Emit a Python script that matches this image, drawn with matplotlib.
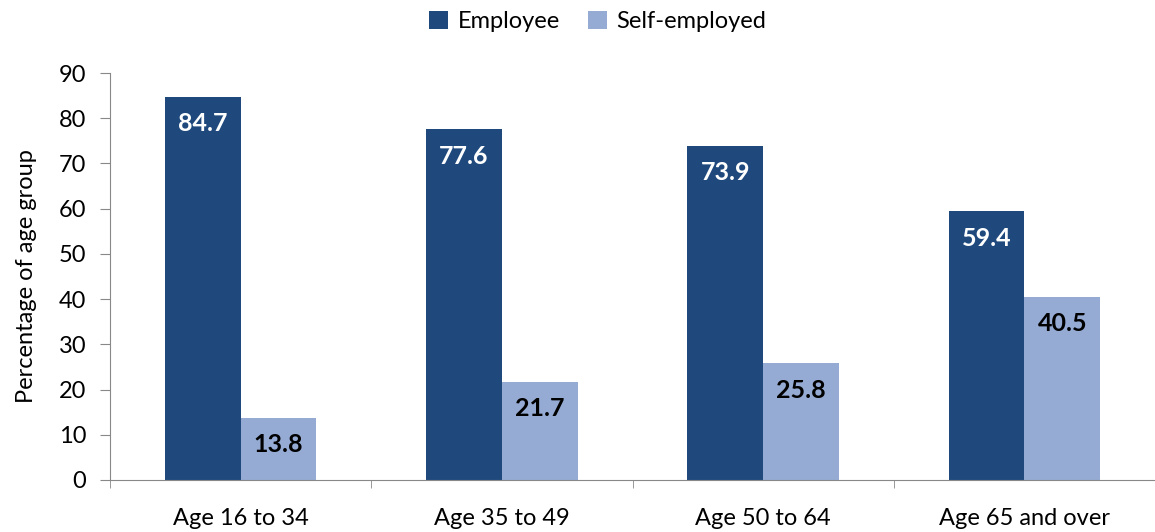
import matplotlib.pyplot as plt
import numpy as np

plt.rcParams['font.family'] = ['Lato', 'DejaVu Sans']

# data
groups = ["Age 16 to 34", "Age 35 to 49", "Age 50 to 64", "Age 65 and over"]
employee = [84.7, 77.6, 73.9, 59.4]
self_employed = [13.8, 21.7, 25.8, 40.5]

dark = "#1F497D"
light = "#95ABD3"
axis_col = "#888888"

fig = plt.figure(figsize=(11.55, 5.32), dpi=100)
ax = fig.add_axes([110/1155, 52/532, 1045/1155, 407/532])

x = np.arange(len(groups))
w = 0.29
b1 = ax.bar(x - w/2, employee, w, color=dark, label="Employee")
b2 = ax.bar(x + w/2, self_employed, w, color=light, label="Self-employed")

# value labels just inside the top of each bar
for rect, v in zip(b1, employee):
    ax.annotate(f"{v:.1f}", (rect.get_x() + rect.get_width()/2, v),
                xytext=(0, -27), textcoords="offset pixels",
                ha="center", va="center", color="white",
                fontsize=18, fontweight="bold")
for rect, v in zip(b2, self_employed):
    ax.annotate(f"{v:.1f}", (rect.get_x() + rect.get_width()/2, v),
                xytext=(0, -27), textcoords="offset pixels",
                ha="center", va="center", color="black",
                fontsize=18, fontweight="bold")

ax.set_ylim(0, 90)
ax.set_yticks(range(0, 91, 10))
ax.set_xlim(-0.5, 3.5 - 3/262)
ax.set_xticks(x)
ax.set_xticklabels(groups)
ax.set_xticks(np.arange(-0.5, 3.6, 1), minor=True)
ax.tick_params(axis="x", which="major", length=0, labelsize=17, pad=20)
ax.tick_params(axis="x", which="minor", length=6, color=axis_col, direction="out")
ax.tick_params(axis="y", length=7, color=axis_col, labelsize=17, direction="out", pad=10)

for s in ["top", "right"]:
    ax.spines[s].set_visible(False)
ax.spines["left"].set_color(axis_col)
ax.spines["bottom"].set_color(axis_col)

ax.set_ylabel("Percentage of age group", fontsize=17, labelpad=16)

fig.legend(handles=[b1, b2], loc="upper center", bbox_to_anchor=(598/1155, 1.02),
           ncol=2, frameon=False, fontsize=17, handlelength=0.8,
           handleheight=0.8, columnspacing=1.2, handletextpad=0.4)

plt.savefig("out.png", dpi=100)
